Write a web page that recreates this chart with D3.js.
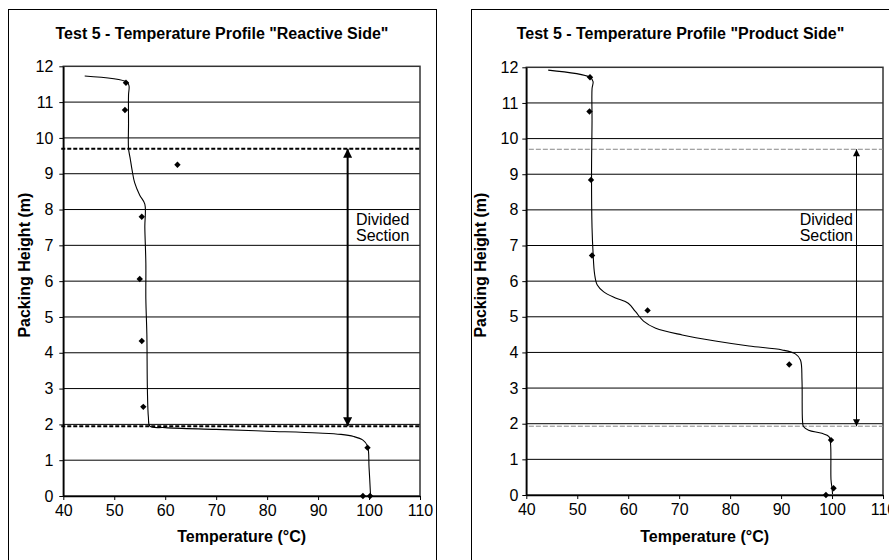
<!doctype html>
<html lang="en">
<head>
  <meta charset="utf-8">
  <script src="https://cdn.jsdelivr.net/npm/d3@7/dist/d3.min.js"></script>
</head>

<style>
    body {
        margin: 0;
        background-color: white;
    }

    svg {
        display: block;
        font-family: Arial, "Liberation Sans", Helvetica, sans-serif;
    }
</style>

<body>
</body>

<script>

    // axis ticks
    let xTicks = [40, 50, 60, 70, 80, 90, 100, 110]
    let yTicks = [0, 1, 2, 3, 4, 5, 6, 7, 8, 9, 10, 11, 12]

    // reactive side: simulated profile [T, H] and measured points
    let reactiveModel = [
        [44.2, 11.73], [52.5, 11.56], [52.9, 11.45], [52.8, 11.2], [52.8, 10.4], [52.8, 9.7],
        [53.1, 9.45], [53.5, 9.1], [54.0, 8.75], [55.0, 8.4], [56.0, 8.15], [56.0, 7.5],
        [56.2, 6.5], [56.2, 5.5], [56.4, 4.5], [56.5, 3.0], [56.7, 2.2], [57.0, 1.95],
        [60, 1.91], [70, 1.86], [80, 1.81], [90, 1.76], [94.5, 1.72], [97, 1.66],
        [98.8, 1.56], [99.7, 1.4], [100.0, 0.8], [100.3, 0]
    ]
    let reactiveMeasured = [
        [52.3, 11.54], [52.1, 10.78], [62.4, 9.25], [55.4, 7.8], [55.0, 6.06],
        [55.4, 4.33], [55.7, 2.49], [99.7, 1.35], [98.8, 0], [100.2, 0]
    ]

    // product side
    let productModel = [
        [44.3, 11.92], [52.5, 11.72], [53.1, 11.6], [52.9, 11.4], [52.9, 10.5], [52.8, 9.0],
        [52.9, 7.5], [53.1, 6.8], [53.4, 6.2], [53.9, 5.9], [55.2, 5.7], [57.5, 5.53],
        [60.0, 5.38], [61.4, 5.15], [63.0, 4.88], [65.4, 4.68], [70.6, 4.49], [77.1, 4.32],
        [83.7, 4.18], [90.2, 4.07], [92.8, 3.96], [93.8, 3.79], [94.1, 3.23], [94.2, 2.1],
        [94.4, 1.92], [95.4, 1.82], [98.0, 1.73], [99.4, 1.64], [99.7, 1.45], [99.8, 0.42],
        [100.0, 0.19], [100.1, 0.03]
    ]
    let productMeasured = [
        [52.5, 11.72], [52.4, 10.76], [52.7, 8.84], [52.9, 6.72], [63.8, 5.18],
        [91.6, 3.66], [99.8, 1.54], [100.3, 0.19], [98.8, 0]
    ]

    // divided section limits (m)
    let reactiveDivider = [9.7, 1.95]
    let productDivider = [9.7, 1.93]

    let fontSize = 16

    let svg = d3.select('body')
        .append('svg')
        .attr('width', 889)
        .attr('height', 560)

    let defs = svg.append('defs')
    let mkArrow = (id, w, l) => {
        defs.append('marker')
            .attr('id', id)
            .attr('viewBox', '0 0 10 10')
            .attr('refX', 10)
            .attr('refY', 5)
            .attr('markerUnits', 'userSpaceOnUse')
            .attr('markerWidth', l)
            .attr('markerHeight', w)
            .attr('orient', 'auto-start-reverse')
            .append('path')
            .attr('d', 'M0,0 L10,5 L0,10 z')
            .attr('fill', '#000')
    }
    mkArrow('arrBold', 9, 9)
    mkArrow('arrThin', 7, 8)

    let drawChart = (opts) => {
        let g = svg.append('g')

        // outer frame
        g.append('rect')
            .attr('x', opts.frame[0] + 0.5)
            .attr('y', 9.5)
            .attr('width', opts.frame[1] - opts.frame[0])
            .attr('height', 600)
            .attr('fill', 'white')
            .attr('stroke', '#000')
            .attr('stroke-width', 1)

        let x = d3.scaleLinear().domain([40, 110]).range(opts.xRange)
        let y = d3.scaleLinear().domain([0, 12]).range(opts.yRange)

        // gridlines
        g.append('g')
            .selectAll('line')
            .data(yTicks.filter(t => t > 0 && t < 12))
            .join('line')
            .attr('x1', x(40)).attr('x2', x(110))
            .attr('y1', d => y(d)).attr('y2', d => y(d))
            .attr('stroke', '#000')
            .attr('stroke-width', 1)

        // plot border
        g.append('rect')
            .attr('x', x(40))
            .attr('y', y(12))
            .attr('width', x(110) - x(40))
            .attr('height', y(0) - y(12))
            .attr('fill', 'none')
            .attr('stroke', '#333')
            .attr('stroke-width', 1.5)

        // axes
        let xAxis = g.append('g')
            .attr('transform', 'translate(0,' + y(0) + ')')
            .call(d3.axisBottom(x).tickValues(xTicks).tickSize(4).tickSizeOuter(0).tickPadding(5))
        let yAxis = g.append('g')
            .attr('transform', 'translate(' + x(40) + ',0)')
            .call(d3.axisLeft(y).tickValues(yTicks).tickSize(4).tickSizeOuter(0).tickPadding(opts.yPad))
        for (let ax of [xAxis, yAxis]) {
            ax.select('.domain').attr('stroke', '#000').attr('stroke-width', 1.5)
            ax.selectAll('.tick line').attr('stroke', '#000')
            ax.selectAll('.tick text')
                .attr('font-size', fontSize)
                .attr('font-family', 'Arial, "Liberation Sans", sans-serif')
                .attr('fill', '#000')
        }

        // divided section dashed lines
        g.append('g')
            .selectAll('line')
            .data(opts.divider)
            .join('line')
            .attr('x1', x(opts.dashStart)).attr('x2', x(110))
            .attr('y1', d => y(d)).attr('y2', d => y(d))
            .attr('stroke', opts.dashColor)
            .attr('stroke-width', opts.dashWidth)
            .attr('stroke-dasharray', opts.dashArray)

        // double arrow
        g.append('line')
            .attr('x1', x(opts.arrowT)).attr('x2', x(opts.arrowT))
            .attr('y1', y(opts.divider[0])).attr('y2', y(opts.divider[1]))
            .attr('stroke', '#000')
            .attr('stroke-width', opts.arrowWidth)
            .attr('marker-start', 'url(#' + opts.arrowId + ')')
            .attr('marker-end', 'url(#' + opts.arrowId + ')')

        let lbl = g.append('text')
            .attr('font-size', fontSize)
            .attr('text-anchor', opts.labelAnchor)
            .attr('fill', '#000')
        lbl.append('tspan').attr('x', opts.labelX).attr('y', 225).text('Divided')
        lbl.append('tspan').attr('x', opts.labelX).attr('y', 241).text('Section')

        // simulated profile
        g.append('path')
            .datum(opts.model)
            .attr('d', d3.line().x(d => x(d[0])).y(d => y(d[1])).curve(d3.curveCatmullRom.alpha(0.5)))
            .attr('fill', 'none')
            .attr('stroke', '#000')
            .attr('stroke-width', 1.1)

        // measured points
        g.append('g')
            .selectAll('path')
            .data(opts.measured)
            .join('path')
            .attr('transform', d => 'translate(' + x(d[0]) + ',' + y(d[1]) + ')')
            .attr('d', d3.symbol(d3.symbolDiamond2, 26))
            .attr('fill', '#000')

        // titles
        g.append('text')
            .attr('x', (opts.frame[0] + opts.frame[1]) / 2)
            .attr('y', 39)
            .attr('text-anchor', 'middle')
            .attr('font-size', fontSize)
            .attr('font-weight', 'bold')
            .text(opts.title)

        g.append('text')
            .attr('x', (x(40) + x(110)) / 2)
            .attr('y', 542)
            .attr('text-anchor', 'middle')
            .attr('font-size', fontSize)
            .attr('font-weight', 'bold')
            .text('Temperature (°C)')

        g.append('text')
            .attr('transform', 'translate(' + opts.yLabelX + ',' + (y(6) - 16) + ') rotate(-90)')
            .attr('text-anchor', 'middle')
            .attr('font-size', fontSize)
            .attr('font-weight', 'bold')
            .text('Packing Height (m)')
    }

    drawChart({
        frame: [8, 436],
        xRange: [63.3, 420],
        yRange: [496, 66.3],
        yPad: 6,
        yLabelX: 30,
        title: 'Test 5 - Temperature Profile "Reactive Side"',
        model: reactiveModel,
        measured: reactiveMeasured,
        divider: reactiveDivider,
        dashStart: 39.6,
        dashColor: '#000',
        dashWidth: 2,
        dashArray: '4,2',
        arrowT: 95.8,
        arrowWidth: 2,
        arrowId: 'arrBold',
        labelX: 356,
        labelAnchor: 'start'
    })

    drawChart({
        frame: [471, 890],
        xRange: [526.3, 883],
        yRange: [495, 67.3],
        yPad: 4,
        yLabelX: 486,
        title: 'Test 5 - Temperature Profile "Product Side"',
        model: productModel,
        measured: productMeasured,
        divider: productDivider,
        dashStart: 40.5,
        dashColor: '#888',
        dashWidth: 1,
        dashArray: '5,2',
        arrowT: 104.8,
        arrowWidth: 1,
        arrowId: 'arrThin',
        labelX: 853,
        labelAnchor: 'end'
    })

</script>

</html>
